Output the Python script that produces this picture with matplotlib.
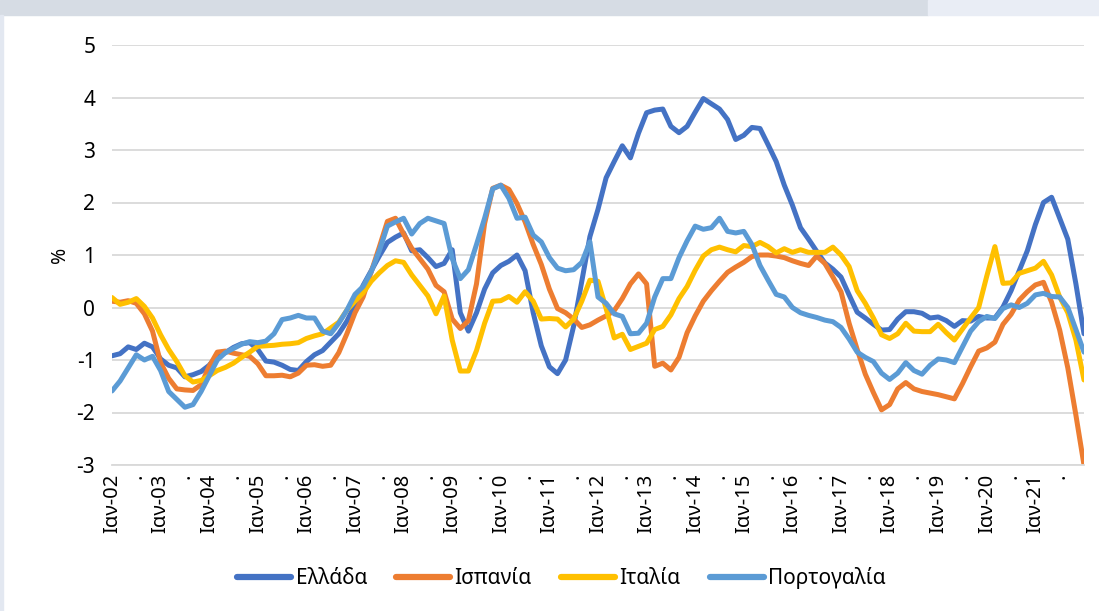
import matplotlib

matplotlib.use("Agg")

import matplotlib.pyplot as plt
import numpy as np
from matplotlib.patches import Rectangle

plt.rcParams["font.family"] = ["Noto Sans", "DejaVu Sans"]
plt.rcParams["axes.unicode_minus"] = False

# μήνες από Ιαν-02, ανά δύο μήνες
months = np.arange(0, 241, 2)

greece = [
    -0.92, -0.88, -0.75, -0.80, -0.68, -0.75, -0.98, -1.10, -1.15, -1.32,
    -1.28, -1.22, -1.10, -0.92, -0.86, -0.76, -0.69, -0.67, -0.80, -1.02,
    -1.04, -1.10, -1.18, -1.20, -1.03, -0.90, -0.82, -0.66, -0.50, -0.26,
    0.05, 0.42, 0.70, 0.98, 1.24, 1.34, 1.42, 1.08, 1.10, 0.95,
    0.78, 0.84, 1.10, -0.10, -0.45, -0.10, 0.35, 0.66, 0.80, 0.88,
    1.00, 0.70, -0.10, -0.73, -1.13, -1.26, -1.00, -0.35, 0.50, 1.35,
    1.87, 2.47, 2.78, 3.08, 2.85, 3.32, 3.71, 3.76, 3.78, 3.45,
    3.33, 3.45, 3.72, 3.98, 3.88, 3.78, 3.58, 3.20, 3.28, 3.43,
    3.41, 3.10, 2.78, 2.33, 1.95, 1.52, 1.30, 1.07, 0.85, 0.73,
    0.58, 0.24, -0.09, -0.20, -0.32, -0.43, -0.42, -0.22, -0.08, -0.08,
    -0.11, -0.20, -0.18, -0.25, -0.36, -0.25, -0.26, -0.17, -0.20, -0.20,
    0.01, 0.32, 0.70, 1.08, 1.58, 2.00, 2.10, 1.70, 1.30, 0.45,
    -0.50,
]

spain = [
    0.12, 0.10, 0.13, 0.08, -0.12, -0.45, -1.05, -1.35, -1.55, -1.57,
    -1.58, -1.47, -1.12, -0.85, -0.83, -0.87, -0.90, -0.93, -1.07, -1.30,
    -1.30, -1.29, -1.32, -1.25, -1.10, -1.09, -1.12, -1.10, -0.86, -0.50,
    -0.10, 0.20, 0.68, 1.15, 1.64, 1.70, 1.40, 1.13, 0.93, 0.73,
    0.42, 0.30, -0.22, -0.40, -0.25, 0.45, 1.60, 2.27, 2.33, 2.25,
    1.98, 1.63, 1.20, 0.82, 0.35, -0.02, -0.10, -0.22, -0.38, -0.33,
    -0.24, -0.16, -0.06, 0.17, 0.45, 0.64, 0.45, -1.12, -1.06, -1.19,
    -0.95, -0.48, -0.16, 0.12, 0.32, 0.50, 0.67, 0.77, 0.86, 0.97,
    1.00, 1.00, 0.98, 0.95, 0.89, 0.84, 0.80, 0.98, 0.84, 0.58,
    0.30, -0.30, -0.80, -1.27, -1.62, -1.95, -1.85, -1.55, -1.43, -1.55,
    -1.60, -1.63, -1.66, -1.70, -1.74, -1.45, -1.13, -0.83, -0.77, -0.66,
    -0.32, -0.13, 0.14, 0.30, 0.43, 0.48, 0.10, -0.43, -1.15, -2.05,
    -3.00,
]

italy = [
    0.19, 0.06, 0.10, 0.17, 0.02, -0.20, -0.52, -0.80, -1.03, -1.30,
    -1.42, -1.39, -1.30, -1.20, -1.14, -1.06, -0.95, -0.85, -0.74, -0.73,
    -0.72, -0.70, -0.69, -0.67, -0.59, -0.54, -0.50, -0.39, -0.28, -0.05,
    0.12, 0.28, 0.50, 0.66, 0.80, 0.89, 0.86, 0.62, 0.42, 0.22,
    -0.12, 0.22, -0.62, -1.21, -1.21, -0.82, -0.30, 0.12, 0.13, 0.21,
    0.10, 0.30, 0.12, -0.22, -0.21, -0.22, -0.37, -0.22, 0.12, 0.52,
    0.50, -0.02, -0.58, -0.51, -0.80, -0.74, -0.68, -0.42, -0.36, -0.14,
    0.17, 0.40, 0.71, 0.98, 1.10, 1.15, 1.10, 1.06, 1.18, 1.16,
    1.24, 1.16, 1.04, 1.12, 1.05, 1.10, 1.05, 1.05, 1.05, 1.15,
    1.00, 0.78, 0.32, 0.08, -0.20, -0.52, -0.59, -0.50, -0.30, -0.45,
    -0.46, -0.46, -0.32, -0.48, -0.62, -0.41, -0.20, 0.00, 0.60, 1.16,
    0.46, 0.47, 0.65, 0.70, 0.75, 0.88, 0.62, 0.20, -0.10, -0.62,
    -1.38,
]

portugal = [
    -1.59, -1.40, -1.15, -0.90, -1.00, -0.93, -1.20, -1.60, -1.75, -1.90,
    -1.85, -1.60, -1.30, -1.00, -0.86, -0.78, -0.70, -0.65, -0.67, -0.64,
    -0.50, -0.23, -0.20, -0.15, -0.20, -0.20, -0.45, -0.50, -0.30, -0.05,
    0.25, 0.40, 0.68, 1.08, 1.55, 1.63, 1.70, 1.40, 1.60, 1.70,
    1.65, 1.60, 0.93, 0.55, 0.72, 1.20, 1.70, 2.26, 2.33, 2.08,
    1.70, 1.72, 1.38, 1.25, 0.95, 0.75, 0.70, 0.72, 0.86, 1.25,
    0.20, 0.08, -0.12, -0.17, -0.50, -0.49, -0.30, 0.20, 0.55, 0.55,
    0.95, 1.27, 1.55, 1.49, 1.52, 1.70, 1.45, 1.42, 1.45, 1.20,
    0.80, 0.52, 0.25, 0.20, 0.00, -0.10, -0.15, -0.19, -0.24, -0.27,
    -0.38, -0.60, -0.85, -0.95, -1.03, -1.25, -1.37, -1.25, -1.05, -1.20,
    -1.27, -1.10, -0.98, -1.00, -1.05, -0.75, -0.45, -0.27, -0.17, -0.21,
    -0.02, 0.05, 0.00, 0.08, 0.24, 0.27, 0.21, 0.20, 0.00, -0.42,
    -0.85,
]

series = [
    ("Ελλάδα", greece, "#4472C4"),
    ("Ισπανία", spain, "#ED7D31"),
    ("Ιταλία", italy, "#FFC000"),
    ("Πορτογαλία", portugal, "#5B9BD5"),
]

year_labels = [
    "Ιαν-02", "Ιαν-03", "Ιαν-04", "Ιαν-05", "Ιαν-06", "Ιαν-07", "Ιαν-08",
    "Ιαν-09", "Ιαν-10", "Ιαν-11", "Ιαν-12", "Ιαν-13", "Ιαν-14", "Ιαν-15",
    "Ιαν-16", "Ιαν-17", "Ιαν-18", "Ιαν-19", "Ιαν-20", "Ιαν-21",
]

fig = plt.figure(figsize=(10.99, 6.11), dpi=100)

# γκρι λωρίδα στην κορυφή και λεπτό περίγραμμα αριστερά
fig.patches.append(Rectangle((0, 1 - 15 / 611), 928 / 1099, 15 / 611,
                             transform=fig.transFigure, color="#D6DCE4", zorder=0))
fig.patches.append(Rectangle((928 / 1099, 1 - 15 / 611), 1 - 928 / 1099, 15 / 611,
                             transform=fig.transFigure, color="#E9EDF5", zorder=0))
fig.patches.append(Rectangle((0, 0), 3 / 1099, 1 - 15 / 611,
                             transform=fig.transFigure, color="#E3E8F1", zorder=0))

ax = fig.add_axes([112 / 1099, 1 - 465 / 611, 972 / 1099, 420 / 611])

for name, values, color in series:
    ax.plot(months, values, color=color, lw=3.6, label=name,
            solid_capstyle="round", solid_joinstyle="round")

ax.set_xlim(0, 240)
ax.set_ylim(-3, 5)
ax.set_yticks(np.arange(-3, 6, 1))
ax.yaxis.grid(True, color="#D9D9D9", lw=1.3)
ax.set_axisbelow(True)

tick_pos = np.arange(0, 240, 6)
tick_text = []
for i, p in enumerate(tick_pos):
    tick_text.append(year_labels[i // 2] if p % 12 == 0 else ".")
ax.set_xticks(tick_pos)
ax.set_xticklabels(tick_text, rotation=90, fontsize=14.5)
ax.tick_params(axis="both", length=0, labelcolor="#000000")
ax.tick_params(axis="y", labelsize=15, pad=12)
ax.tick_params(axis="x", pad=6)

for side in ["top", "right", "left"]:
    ax.spines[side].set_visible(False)
ax.spines["bottom"].set_color("#D9D9D9")
ax.spines["bottom"].set_linewidth(1.3)

ax.set_ylabel("%", fontsize=14, labelpad=5)

leg = fig.legend(loc="center", bbox_to_anchor=(0.511, 0.054), ncol=4, frameon=False,
                 fontsize=15, handlelength=2.6, handletextpad=0.2, columnspacing=1.4)
for line in leg.get_lines():
    line.set_linewidth(4.5)

fig.savefig("out.png", dpi=100)
